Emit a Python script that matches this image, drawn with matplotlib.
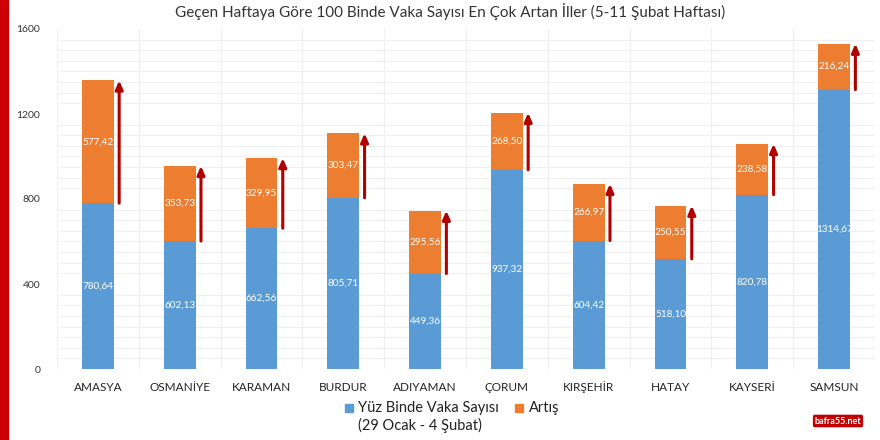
import numpy as np
import matplotlib.pyplot as plt
from matplotlib.patches import Rectangle

plt.rcParams['font.family'] = ['Lato', 'DejaVu Sans']

iller = ['AMASYA', 'OSMANİYE', 'KARAMAN', 'BURDUR', 'ADIYAMAN',
         'ÇORUM', 'KIRŞEHİR', 'HATAY', 'KAYSERİ', 'SAMSUN']
vaka = [780.64, 602.13, 662.56, 805.71, 449.36,
        937.32, 604.42, 518.10, 820.78, 1314.67]
artis = [577.42, 353.73, 329.95, 303.47, 295.56,
         268.50, 266.97, 250.55, 238.58, 216.24]
yticks = [0, 400, 800, 1200, 1600]

blue = '#5B9BD5'
orange = '#ED7D31'
arrow_red = '#B00000'

def fmt(v):
    return '{:.2f}'.format(v).replace('.', ',')

fig = plt.figure(figsize=(8.8, 4.4), dpi=100)
ax = fig.add_axes([57/880, 71/440, 818/880, 340/440])

x = np.arange(len(iller))
vaka = np.array(vaka)
artis = np.array(artis)
w = 0.39

ax.bar(x, vaka, w, color=blue, zorder=3)
ax.bar(x, artis, w, bottom=vaka, color=orange, zorder=3)

for i in range(len(x)):
    ax.text(x[i], vaka[i] / 2, fmt(vaka[i]), ha='center', va='center',
            color='white', fontsize=7.2, zorder=4)
    ax.text(x[i], vaka[i] + artis[i] / 2, fmt(artis[i]), ha='center', va='center',
            color='white', fontsize=7.2, zorder=4)
    ax.annotate('', xy=(x[i] + 0.26, vaka[i] + artis[i]), xytext=(x[i] + 0.26, vaka[i]),
                arrowprops=dict(arrowstyle='-|>,head_width=0.22,head_length=0.5',
                                lw=2.2, color=arrow_red, shrinkA=0, shrinkB=0),
                zorder=5)

# faint cell-like grid
ax.set_yticks(np.arange(0, 1601, 50), minor=True)
ax.set_xticks(np.arange(-0.5, 10, 1), minor=True)
ax.grid(True, which='minor', color='#EFEFEF', lw=0.8, zorder=0)
ax.set_axisbelow(True)

ax.set_xlim(-0.5, 9.5)
ax.set_ylim(0, 1600)
ax.set_yticks(yticks)
ax.set_yticklabels([str(v) for v in yticks], fontsize=7.5, color='#333333')
ax.set_xticks(x)
ax.set_xticklabels(iller, fontsize=8.5, color='#222222')
ax.tick_params(which='both', length=0)
ax.tick_params(axis='x', pad=9)
ax.tick_params(axis='y', pad=12)
for s in ax.spines.values():
    s.set_visible(False)

fig.text(0.511, 0.975, 'Geçen Haftaya Göre 100 Binde Vaka Sayısı En Çok Artan İller (5-11 Şubat Haftası)',
         ha='center', va='center', fontsize=11, color='#333333')

# legend
fig.patches.append(Rectangle((345/880, 1 - 412/440), 8/880, 8/440,
                             transform=fig.transFigure, color=blue))
fig.text(358/880, 1 - 408/440, 'Yüz Binde Vaka Sayısı', ha='left', va='center',
         fontsize=10.5, color='#222222')
fig.text(358/880, 1 - 425/440, '(29 Ocak - 4 Şubat)', ha='left', va='center',
         fontsize=10.5, color='#222222')
fig.patches.append(Rectangle((515/880, 1 - 412/440), 8/880, 8/440,
                             transform=fig.transFigure, color=orange))
fig.text(529/880, 1 - 408/440, 'Artış', ha='left', va='center',
         fontsize=10.5, color='#222222')

# red band on the left
fig.patches.append(Rectangle((0, 0), 8/880, 1, transform=fig.transFigure,
                             color='#CC0000'))

fig.text(838/880, 1 - 421/440, 'bafra55.net', ha='center', va='center',
         fontsize=6.5, color='white', fontweight='bold',
         bbox=dict(boxstyle='round,pad=0.2', fc='#C00000', ec='none'))

fig.savefig('out.png', dpi=100)
